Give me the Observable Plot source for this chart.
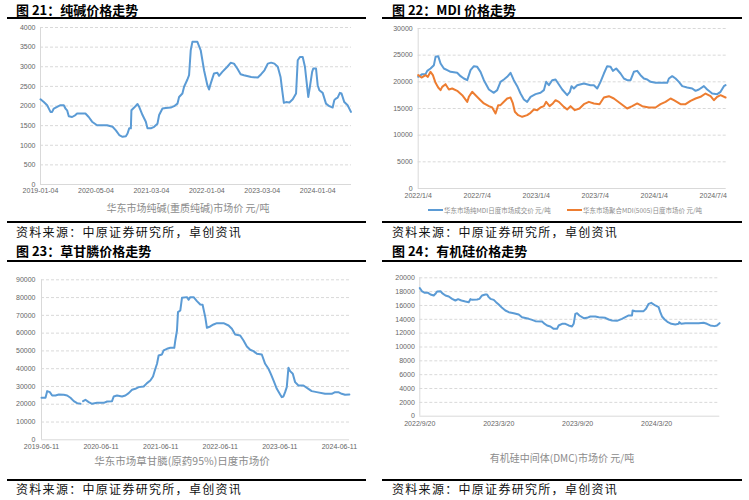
<!DOCTYPE html>
<html><head><meta charset="utf-8">
<script src="https://cdn.jsdelivr.net/npm/d3@7"></script>
<script src="https://cdn.jsdelivr.net/npm/@observablehq/plot@0.6"></script>
<style>
body{margin:0;background:#fff;}
#root{position:relative;width:749px;height:500px;overflow:hidden;font-family:"Noto Sans CJK SC","Noto Sans",sans-serif;}
.title{position:absolute;font-weight:700;font-size:13px;color:#000;line-height:normal;white-space:nowrap;}
.rule{position:absolute;height:2px;background:#000;}
.note{position:absolute;font-size:12px;letter-spacing:1.3px;color:#111;line-height:normal;white-space:nowrap;}
.axt{position:absolute;color:#8c8c8c;transform:translateX(-50%);white-space:nowrap;line-height:1;}
.chart{position:absolute;}
.leg{position:absolute;display:flex;align-items:center;font-size:6.5px;color:#8c8c8c;white-space:nowrap;line-height:1;}
.leg i{display:inline-block;width:15px;height:2px;margin-right:1px;}
</style></head><body><div id="root"></div>
<script>
// ---- 图21 纯碱 (x = position along category axis, in tick intervals) ----
const sodaTicks = ["2019-01-04","2020-05-04","2021-03-04","2022-01-04","2023-03-04","2024-01-04"];
const sodaPos = [0,.06,.12,.18,.21,.24,.30,.36,.42,.45,.48,.51,.57,.63,.66,.81,.87,.93,1.02,1.20,1.30,1.36,1.42,1.48,1.54,1.57,1.60,1.63,1.64,1.69,1.75,1.78,1.84,1.90,1.93,1.99,2.05,2.11,2.14,2.20,2.26,2.35,2.41,2.47,2.50,2.56,2.59,2.65,2.68,2.71,2.74,2.83,2.89,2.95,3.01,3.04,3.07,3.13,3.19,3.22,3.28,3.37,3.43,3.49,3.55,3.61,3.67,3.80,3.92,3.98,4.04,4.10,4.16,4.22,4.28,4.33,4.36,4.39,4.43,4.49,4.55,4.61,4.64,4.68,4.73,4.77,4.81,4.83,4.86,4.90,4.92,4.97,5.00,5.03,5.09,5.15,5.21,5.27,5.30,5.33,5.36,5.40,5.43,5.48,5.54,5.60];
const sodaPrice = [2170,2100,2020,1850,1850,1935,1980,2020,2020,1935,1890,1740,1720,1770,1810,1810,1720,1600,1510,1510,1470,1380,1260,1215,1230,1300,1430,1430,1890,1960,2050,1980,1770,1600,1430,1430,1470,1550,1770,1935,1950,1960,1995,2060,2230,2320,2490,2675,2785,3420,3635,3635,3420,2910,2530,2420,2570,2830,2845,2770,2870,3000,3100,3080,2955,2810,2785,2740,2725,2810,2910,3080,3105,3080,3000,2740,2400,2080,2100,2090,2170,2320,3165,3250,3250,3000,2490,2230,2490,2870,2955,2955,2530,2400,2335,2060,1995,1960,2150,2190,2215,2335,2320,2100,2020,1850];

// ---- 图22 MDI ----
const mdiTicks = ["2022/1/4","2022/7/4","2023/1/4","2023/7/4","2024/1/4","2024/7/4"];
const mdiPurePos = [0,.068,.124,.153,.209,.266,.294,.339,.379,.435,.492,.548,.661,.718,.774,.831,.887,.944,1.0,1.056,1.113,1.198,1.282,1.339,1.395,1.452,1.508,1.565,1.62,1.678,1.734,1.791,1.847,1.904,1.989,2.073,2.13,2.169,2.215,2.271,2.328,2.373,2.441,2.525,2.571,2.599,2.638,2.695,2.808,2.921,2.977,3.034,3.09,3.147,3.203,3.26,3.299,3.356,3.429,3.486,3.542,3.599,3.655,3.712,3.768,3.825,3.881,3.938,4.023,4.136,4.22,4.249,4.305,4.362,4.418,4.475,4.559,4.644,4.701,4.757,4.842,4.898,4.983,5.068,5.124,5.181,5.209];
const mdiPure = [20940,21440,21440,22060,22500,23125,24690,24810,23440,22500,22190,21875,21690,21060,20625,20310,22190,22940,22810,21875,20310,18560,17940,18440,20000,20440,20940,21690,20310,19190,17810,16690,16250,17190,17690,17940,18440,20000,19375,20310,20440,19690,18560,17500,18125,19190,18750,19375,19690,19375,19375,18750,20000,21560,22940,22810,22060,22500,21560,20625,20310,20310,21875,22060,21250,20625,20440,20000,19810,19810,19810,20625,21060,20625,20000,19190,18940,18750,18310,18560,19190,18560,17810,17690,18125,19190,19375];
const mdiPolyPos = [0,.056,.124,.164,.209,.249,.294,.339,.379,.407,.463,.52,.576,.661,.746,.831,.859,.915,.972,1.056,1.113,1.198,1.254,1.311,1.356,1.395,1.452,1.508,1.565,1.605,1.638,1.695,1.763,1.847,1.904,1.96,2.017,2.073,2.13,2.169,2.226,2.282,2.328,2.384,2.469,2.525,2.582,2.655,2.734,2.808,2.893,2.977,3.073,3.147,3.232,3.316,3.429,3.542,3.627,3.712,3.797,3.91,4.023,4.107,4.192,4.277,4.333,4.446,4.531,4.616,4.701,4.785,4.87,4.955,5.011,5.068,5.124,5.209];
const mdiPoly = [21250,20810,21250,20940,21875,21250,19810,18940,18440,19060,19560,18560,18750,18310,17500,16250,17190,18125,17500,16560,15940,15440,15190,14060,15630,15630,16250,16875,17060,15940,14375,13750,13440,13750,14190,14810,14690,15190,15440,16250,15440,15940,16560,16250,15310,14810,15440,14690,15000,15810,16250,15940,15810,17060,17310,16875,15940,15000,15440,15940,15440,15190,15190,15810,16250,16875,16560,15810,15810,16440,16875,17190,17810,17310,16560,17190,17500,17060];
const mdiNames = ["华东市场纯MDI日度市场成交价 元/吨","华东市场聚合MDI(5005)日度市场价 元/吨"];

// ---- 图23 草甘膦 (null = gap in series) ----
const glyTicks = ["2019-06-11","2020-06-11","2021-06-11","2022-06-11","2023-06-11","2024-06-11"];
const glyPos = [0,.067,.095,.14,.179,.235,.291,.374,.43,.486,.542,.598,.654,.676,.698,.737,.793,.849,.933,1.045,1.101,1.184,1.212,1.268,1.352,1.408,1.464,1.52,1.575,1.631,1.715,1.771,1.827,1.872,1.911,1.939,1.966,2.022,2.05,2.106,2.162,2.229,2.246,2.274,2.291,2.33,2.358,2.441,2.469,2.497,2.553,2.609,2.665,2.704,2.749,2.777,2.832,2.888,2.944,3.056,3.14,3.196,3.251,3.335,3.391,3.447,3.503,3.559,3.615,3.698,3.754,3.81,3.849,3.894,3.95,4.006,4.034,4.061,4.089,4.117,4.145,4.173,4.218,4.257,4.313,4.397,4.48,4.536,4.62,4.76,4.872,4.927,4.983,5.039,5.095,5.168];
const glyPrice = [23625,23625,27375,26810,24940,24940,25500,25310,24940,23625,21750,20625,20250,null,21750,22500,21190,20250,20810,20810,21560,21750,24375,24940,24375,24940,26250,28125,28690,29625,30000,31875,33375,35625,39940,42750,47440,48000,50250,51190,51750,51750,55875,61500,71810,72750,79875,80250,78750,80250,80250,78000,76125,75940,69000,63000,63750,64875,65625,65625,64310,62440,59250,58690,55875,52500,50625,49875,48375,48000,42750,39940,37125,33375,28690,25500,24000,24375,26810,29625,40500,38625,37125,32440,30560,30560,28690,27375,26810,25875,25875,26810,26810,25875,25310,25500];

// ---- 图24 有机硅 DMC ----
const dmcTicks = ["2022/9/20","2023/3/20","2023/9/20","2024/3/20"];
const dmcPos = [0,.03,.063,.105,.135,.177,.198,.219,.262,.283,.325,.367,.409,.451,.485,.527,.578,.62,.641,.662,.726,.755,.789,.831,.852,.873,.895,.937,.966,1.0,1.042,1.084,1.127,1.19,1.253,1.295,1.38,1.422,1.464,1.549,1.57,1.612,1.654,1.696,1.738,1.759,1.802,1.844,1.886,1.928,1.949,1.97,1.992,2.021,2.076,2.118,2.16,2.224,2.266,2.35,2.392,2.435,2.498,2.561,2.603,2.646,2.688,2.696,2.73,2.793,2.835,2.865,2.899,2.932,2.983,3.025,3.046,3.068,3.101,3.143,3.186,3.236,3.278,3.287,3.312,3.363,3.447,3.532,3.595,3.637,3.679,3.734,3.764,3.797];
const dmcPrice = [18505,18025,17830,17830,17590,17445,17685,18025,18070,17780,17445,17300,16960,16720,16915,16720,16580,16480,16915,16815,16865,16960,17445,17590,17590,17205,16960,16815,16480,16145,15660,15275,15035,14890,14700,14310,14070,13925,13735,13685,13445,13110,12965,12625,12625,13110,13350,13350,13110,12965,13350,14795,14890,14555,14170,14215,14410,14410,14310,14215,13975,13830,13780,14070,14310,14555,14555,15275,15180,15180,15180,15515,16240,16385,16000,15760,15035,14410,13975,13590,13350,13255,13350,13590,13350,13445,13445,13445,13495,13350,13110,13015,13110,13445];

const zip = (xs, ys) => xs.map((x, i) => ({x, y: ys[i]}));
const BLUE = "#5b9bd5", ORANGE = "#ed7d31";
const root = document.getElementById("root");

function add(cls, style, text) {
  const d = document.createElement("div");
  d.className = cls;
  Object.assign(d.style, style);
  if (text != null) d.textContent = text;
  root.appendChild(d);
  return d;
}

function chart({left, top, width, height, m, xMax, ticks, yMax, yStep, series, xPad, yPad}) {
  const yTicks = d3.range(0, yMax + 1, yStep);
  const svg = Plot.plot({
    width, height,
    marginTop: m[0], marginRight: m[1], marginBottom: m[2], marginLeft: m[3],
    x: {domain: [0, xMax]},
    y: {domain: [0, yMax]},
    style: {fontFamily: "'Liberation Sans', Arial, sans-serif", fontSize: "7px", color: "#666", background: "transparent"},
    marks: [
      Plot.gridY(yTicks.slice(1), {stroke: "#d9d9d9", strokeOpacity: 1, strokeDasharray: "3,2"}),
      Plot.ruleX([0], {stroke: "#d9d9d9", strokeOpacity: 1}),
      Plot.ruleY([0], {stroke: "#d9d9d9", strokeOpacity: 1}),
      Plot.axisY({ticks: yTicks, tickSize: 0, tickPadding: yPad, tickFormat: d => String(d), label: null}),
      Plot.axisX({ticks: ticks.map((_, i) => i), tickSize: 0, tickPadding: xPad, tickFormat: i => ticks[i], label: null}),
      ...series.map(s => Plot.line(s.data, {x: "x", y: "y", stroke: s.color, strokeWidth: 2, strokeLinejoin: "round"}))
    ]
  });
  const wrap = add("chart", {left: left + "px", top: top + "px"});
  wrap.appendChild(svg);
}

// Panel frames
const titles = [
  ["图 21：纯碱价格走势", 16, 0], ["图 22：MDI 价格走势", 392, 0],
  ["图 23：草甘膦价格走势", 16, 240.5], ["图 24：有机硅价格走势", 392, 240.5]
];
titles.forEach(([t, x, y]) => add("title", {left: x + "px", top: y + "px"}, t));
[[7, 17, 359], [382, 17, 360], [7, 221, 359], [382, 221, 360],
 [7, 260, 359], [382, 260, 360], [7, 479, 359], [382, 479, 360]]
  .forEach(([x, y, w]) => add("rule", {left: x + "px", top: y + "px", width: w + "px"}));
const noteText = "资料来源：中原证券研究所，卓创资讯";
[[16, 223], [392, 223], [16, 479.5], [392, 479.5]]
  .forEach(([x, y]) => add("note", {left: x + "px", top: y + "px"}, noteText));

chart({left: 0, top: 20, width: 370, height: 200, m: [7, 19, 36, 40], xMax: 5.61, ticks: sodaTicks,
  yMax: 4000, yStep: 500, xPad: 4, yPad: 5, series: [{data: zip(sodaPos, sodaPrice), color: BLUE}]});
add("axt", {left: "188px", top: "203px", fontSize: "10px"}, "华东市场纯碱(重质纯碱)市场价 元/吨");

chart({left: 375, top: 20, width: 370, height: 200, m: [8, 19.3, 32, 42.7], xMax: 5.22, ticks: mdiTicks,
  yMax: 30000, yStep: 5000, xPad: 5, yPad: 5.5,
  series: [{data: zip(mdiPurePos, mdiPure), color: BLUE}, {data: zip(mdiPolyPos, mdiPoly), color: ORANGE}]});
const l1 = add("leg", {left: "428px", top: "207px"});
l1.innerHTML = `<i style="background:${BLUE}"></i>`; l1.append(mdiNames[0]);
const l2 = add("leg", {left: "567px", top: "207px"});
l2.innerHTML = `<i style="background:${ORANGE}"></i>`; l2.append(mdiNames[1]);

chart({left: 0, top: 265, width: 370, height: 195, m: [14.3, 21, 20.7, 41], xMax: 5.17, ticks: glyTicks,
  yMax: 90000, yStep: 10000, xPad: 4, yPad: 6, series: [{data: zip(glyPos, glyPrice), color: BLUE}]});
add("axt", {left: "182px", top: "456px", fontSize: "10.5px"}, "华东市场草甘膦(原药95%)日度市场价");

chart({left: 375, top: 265, width: 370, height: 175, m: [12.3, 25.7, 24.3, 44.3], xMax: 3.8, ticks: dmcTicks,
  yMax: 20000, yStep: 2000, xPad: 5, yPad: 5, series: [{data: zip(dmcPos, dmcPrice), color: BLUE}]});
add("axt", {left: "562px", top: "453px", fontSize: "10px"}, "有机硅中间体(DMC)市场价 元/吨");
</script>
</body></html>
